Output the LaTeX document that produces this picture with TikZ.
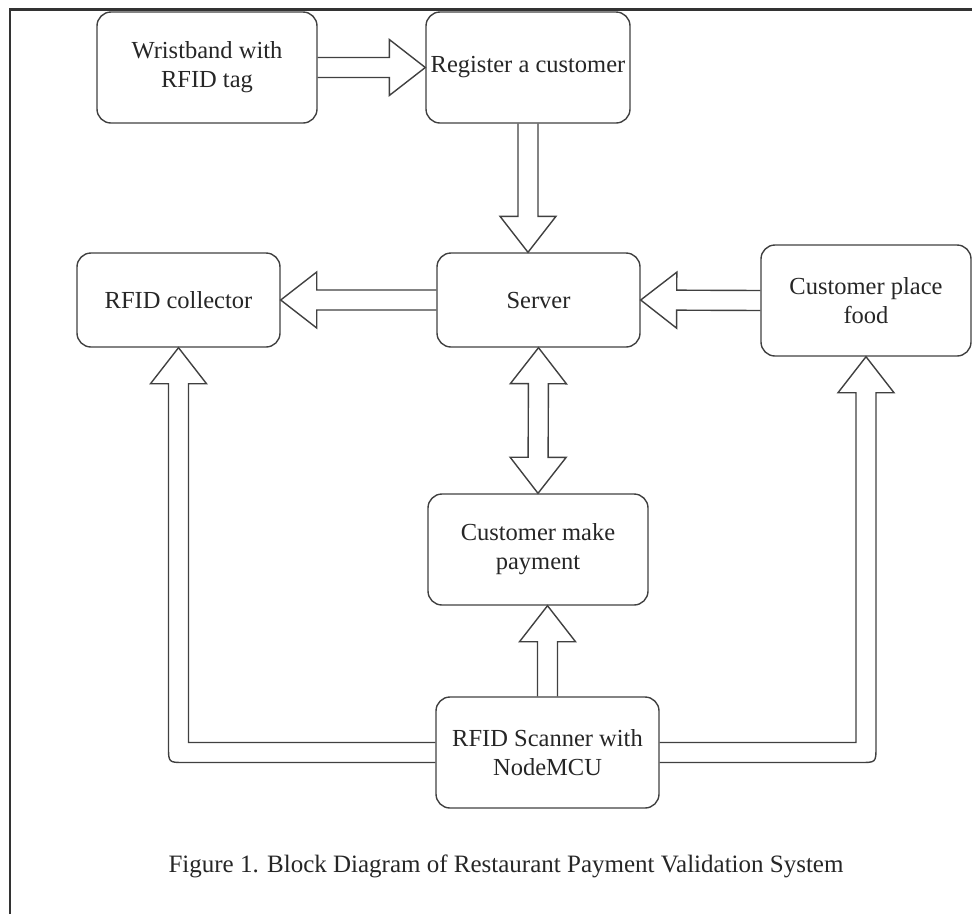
\documentclass[tikz,border=0pt]{standalone}
\usepackage{fontspec}
\setmainfont{Liberation Serif}
\usetikzlibrary{calc}

\begin{document}
\begin{tikzpicture}[x=1pt,y=-1pt,
    box/.style={draw=black!75, line width=1.4pt, rounded corners=14pt, align=center,
        inner sep=0pt, text=black!85, font=\fontsize{24.5}{29}\selectfont},
    blk/.style={draw=black!75, line width=1.4pt, line join=miter}]
\useasboundingbox (0,0) rectangle (972,914);
\draw[black!80, line width=2.2pt] (10,914) -- (10,9.5) -- (972,9.5);

   % one-way and two-way block arrows
   \newcommand{\Fat}[2]{\draw[blk] ($(#1)!10pt!-90:(#2)$) -- ($(#2)!36pt!(#1)!10pt!90:(#1)$)
      -- ($(#2)!36pt!(#1)!28pt!90:(#1)$) -- (#2) -- ($(#2)!36pt!(#1)!28pt!-90:(#1)$)
      -- ($(#2)!36pt!(#1)!10pt!-90:(#1)$) -- ($(#1)!10pt!90:(#2)$);}
   \newcommand{\FatBoth}[2]{\draw[blk] (#1) -- ($(#1)!36pt!(#2)!28pt!-90:(#2)$)
      -- ($(#1)!36pt!(#2)!10pt!-90:(#2)$) -- ($(#2)!36pt!(#1)!10pt!90:(#1)$)
      -- ($(#2)!36pt!(#1)!28pt!90:(#1)$) -- (#2) -- ($(#2)!36pt!(#1)!28pt!-90:(#1)$)
      -- ($(#2)!36pt!(#1)!10pt!-90:(#1)$) -- ($(#1)!36pt!(#2)!10pt!90:(#2)$)
      -- ($(#1)!36pt!(#2)!28pt!90:(#2)$) -- cycle;}

\node[box, minimum width=220pt, minimum height=111pt] (wrist) at (207,67.5) {Wristband with\\RFID tag};
\node[box, minimum width=204pt, minimum height=111pt] (reg) at (528,67.5) {Register a customer};
\node[box, minimum width=203pt, minimum height=94pt] (col) at (178.5,300) {RFID collector};
\node[box, minimum width=203pt, minimum height=94pt] (srv) at (538.5,300) {Server};
\node[box, minimum width=210pt, minimum height=111pt] (cpf) at (866,300.5) {Customer place\\food};
\node[box, minimum width=220pt, minimum height=111pt] (cmp) at (538,549.5) {Customer make\\payment};
\node[box, minimum width=223pt, minimum height=111pt] (scan) at (547.5,752.5) {RFID Scanner with\\NodeMCU};

\coordinate (regS) at (reg.south -| reg.south);
\coordinate (srvN) at (reg.south |- srv.north);
\coordinate (scanN) at (scan.north);
\coordinate (cmpS) at (scan.north |- cmp.south);
\coordinate (cL) at (col.south |- scan.west);
\coordinate (cR) at (cpf.south |- scan.east);

\Fat{wrist.east}{reg.west}
\Fat{regS}{srvN}
\Fat{srv.west}{col.east}
\Fat{cpf.west}{srv.east}
\FatBoth{srv.south}{cmp.north}
\Fat{scanN}{cmpS}

% loops from the scanner up to the side boxes
\draw[blk] ($(scan.west)+(0,10)$) -- ($(cL)+(6,10)$) .. controls ($(cL)+(-10,10)$) .. ($(cL)+(-10,-6)$)
   -- ($(col.south)+(-10,36)$) -- ($(col.south)+(-28,36)$) -- (col.south) -- ($(col.south)+(28,36)$)
   -- ($(col.south)+(10,36)$) -- ($(cL)+(10,-10)$) -- ($(scan.west)+(0,-10)$);
\draw[blk] ($(scan.east)+(0,10)$) -- ($(cR)+(-6,10)$) .. controls ($(cR)+(10,10)$) .. ($(cR)+(10,-6)$)
   -- ($(cpf.south)+(10,36)$) -- ($(cpf.south)+(28,36)$) -- (cpf.south) -- ($(cpf.south)+(-28,36)$)
   -- ($(cpf.south)+(-10,36)$) -- ($(cR)+(-10,-10)$) -- ($(scan.east)+(0,-10)$);

\node[text=black!85, font=\fontsize{25}{30}\selectfont] (cap) at (506,866) {Figure 1. Block Diagram of Restaurant Payment Validation System};
\end{tikzpicture}
\end{document}
